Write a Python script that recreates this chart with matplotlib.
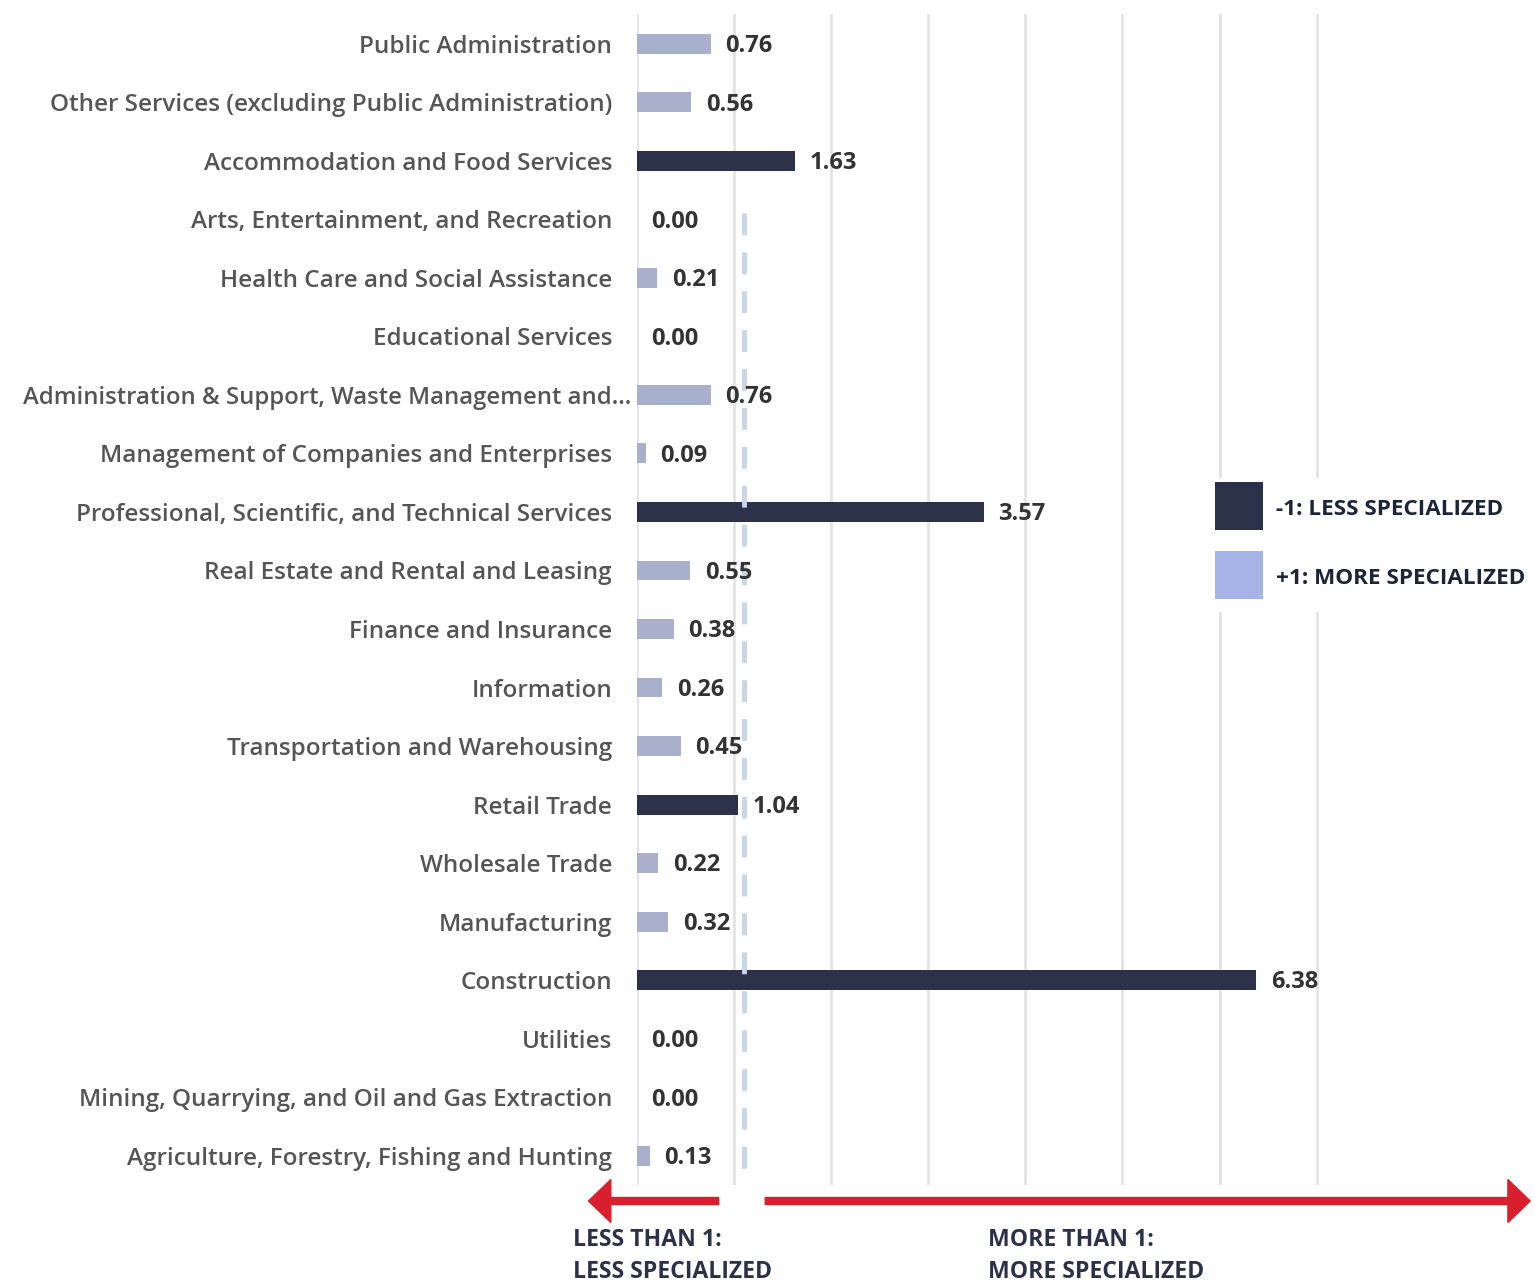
import matplotlib
matplotlib.use("Agg")
import matplotlib.pyplot as plt
from matplotlib.patches import FancyArrow, Rectangle
from matplotlib.transforms import blended_transform_factory

# Location quotient by industry, top to bottom as shown
industries = [
    "Public Administration",
    "Other Services (excluding Public Administration)",
    "Accommodation and Food Services",
    "Arts, Entertainment, and Recreation",
    "Health Care and Social Assistance",
    "Educational Services",
    "Administration & Support, Waste Management and...",
    "Management of Companies and Enterprises",
    "Professional, Scientific, and Technical Services",
    "Real Estate and Rental and Leasing",
    "Finance and Insurance",
    "Information",
    "Transportation and Warehousing",
    "Retail Trade",
    "Wholesale Trade",
    "Manufacturing",
    "Construction",
    "Utilities",
    "Mining, Quarrying, and Oil and Gas Extraction",
    "Agriculture, Forestry, Fishing and Hunting",
]
lq_values = [0.76, 0.56, 1.63, 0.00, 0.21, 0.00, 0.76, 0.09, 3.57, 0.55,
             0.38, 0.26, 0.45, 1.04, 0.22, 0.32, 6.38, 0.00, 0.00, 0.13]
x_ticks = [0, 1, 2, 3, 4, 5, 6, 7]
threshold = 1.1  # dashed reference line
long_label = 6   # truncated label that overflows closer to the axis

DARK = "#2b3149"
LIGHT = "#a9b0cb"
LEGEND_LIGHT = "#a6b1e5"
RED = "#d91f2d"
plt.rcParams["font.family"] = ["Open Sans", "DejaVu Sans"]

fig = plt.figure(figsize=(15.35, 12.82), dpi=100)
ax = fig.add_axes([0.415, 0.0757, 0.444, 0.913])

ys = list(range(len(industries)))
colors = [DARK if v > 1 else LIGHT for v in lq_values]
ax.barh(ys, lq_values, height=0.34, color=colors, zorder=2)

for y, v in zip(ys, lq_values):
    ax.text(v + 0.15, y + 0.04, f"{v:.2f}", ha="left", va="center",
            fontsize=17, fontweight="bold", color="#333333", zorder=4)

ax.vlines(threshold, 2.9, 19.5, colors="#c9d6e6", linestyles=(0, (4.5, 3.5)),
          linewidth=3.5, zorder=3)

ax.set_xlim(0, 7.02)
ax.set_ylim(len(industries) - 0.5, -0.5)
ax.set_xticks(x_ticks)
ax.grid(True, axis="x", color="#e3e3e3", linewidth=2, zorder=0)
ax.tick_params(axis="x", length=0, labelbottom=False)
ax.tick_params(axis="y", length=0, pad=18)
ax.set_yticks(ys)
tick_text = ["" if i == long_label else s for i, s in enumerate(industries)]
ax.set_yticklabels(tick_text, fontsize=17.5, fontweight="semibold", color="#555555")
ax.annotate(industries[long_label], xy=(0, long_label), xycoords=("axes fraction", "data"),
            xytext=(-6, 0), textcoords="offset pixels", ha="right", va="center_baseline",
            fontsize=17.2, fontweight="semibold", color="#555555")
for s in ax.spines.values():
    s.set_visible(False)

# legend block (white box hides gridlines)
fig.patches.append(Rectangle((1200 / 1535, 1 - 612 / 1282), 335 / 1535, 134 / 1282,
                             transform=fig.transFigure, facecolor="white",
                             edgecolor="none", zorder=1))
for (y0, col, lab) in [(482, DARK, "-1: LESS SPECIALIZED"),
                       (551, LEGEND_LIGHT, "+1: MORE SPECIALIZED")]:
    fig.patches.append(Rectangle((1215 / 1535, 1 - (y0 + 48) / 1282), 48 / 1535, 48 / 1282,
                                 transform=fig.transFigure, facecolor=col,
                                 edgecolor="none", zorder=2))
    fig.text(1276 / 1535, 1 - (y0 + 27) / 1282, lab, ha="left", va="center",
             fontsize=16.2, fontweight="bold", color="#1c2438", zorder=3)

# direction arrows below the axis
tr = blended_transform_factory(ax.transData, fig.transFigure)
arrow_y = 1 - 1201 / 1282
head_w = 43 / 1282
head_l = 0.23
for x0, x1 in [(0.84, -0.5), (1.32, 9.2)]:
    ax.add_patch(FancyArrow(x0, arrow_y, x1 - x0, 0, width=7 / 1282,
                            head_width=head_w, head_length=head_l,
                            length_includes_head=True, color=RED,
                            transform=tr, clip_on=False))

fig.text(573 / 1535, 1 - 1256 / 1282, "LESS THAN 1:\nLESS SPECIALIZED", ha="left",
         va="center", fontsize=16.6, fontweight="bold", color="#2b3149", linespacing=1.45)
fig.text(988 / 1535, 1 - 1256 / 1282, "MORE THAN 1:\nMORE SPECIALIZED", ha="left",
         va="center", fontsize=16.6, fontweight="bold", color="#2b3149", linespacing=1.45)

fig.savefig("out.png", dpi=100, facecolor="white")
